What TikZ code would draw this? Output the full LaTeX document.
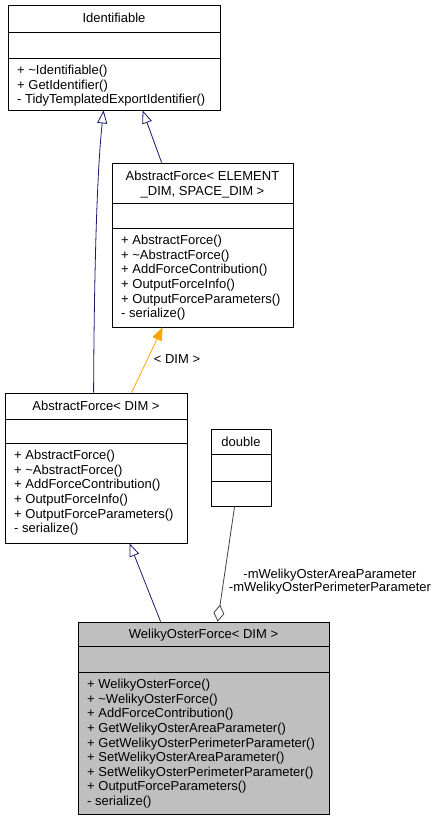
\documentclass[tikz,border=0pt]{standalone}
\usepackage{fontspec}
\setmainfont{Liberation Sans}
\usetikzlibrary{arrows.meta}
\definecolor{navyline}{HTML}{191970}
\definecolor{orangeline}{HTML}{FFA500}
\definecolor{grayfill}{HTML}{BFBFBF}
\definecolor{darkline}{HTML}{404040}
\begin{document}
\begin{tikzpicture}[x=1pt,y=-1pt,
  umlbox/.style={draw=black, line width=0.8pt, rectangle, inner sep=0pt, fill=white},
  ttl/.style={font=\fontsize{13pt}{15pt}\selectfont, anchor=base, inner sep=0pt},
  mem/.style={font=\fontsize{13pt}{14.6pt}\selectfont, anchor=north west, inner sep=0pt, align=left},
  sep/.style={draw=black, line width=0.8pt},
  inh/.style={draw=navyline, line width=0.8pt, -{Triangle[open, length=13pt, width=10pt, fill=white]}},
  tmpl/.style={draw=orangeline, line width=0.8pt, -{Triangle[length=13pt, width=10pt]}},
  agg/.style={draw=darkline, line width=0.8pt, {Diamond[open, length=17pt, width=11pt, fill=white]}-},
  lbl/.style={font=\fontsize{13pt}{13pt}\selectfont, inner sep=0pt, align=center}
]
\useasboundingbox (0,0) rectangle (436,821);

% Identifiable
\node[umlbox, minimum width=212pt, minimum height=105pt] (ident) at (114,57.5) {};
\draw[sep] (8,32) -- (220,32);
\draw[sep] (8,58) -- (220,58);
\node[ttl] (identT) at (114,22.5) {Identifiable};
\node[mem] (identM) at (17,64.3) {\strut+ \char`\~Identifiable()\\+ GetIdentifier()\\- TidyTemplatedExportIdentifier()};

% AbstractForce< ELEMENT_DIM, SPACE_DIM >
\node[umlbox, minimum width=181pt, minimum height=164pt] (afed) at (202.5,245) {};
\draw[sep] (112,203) -- (293,203);
\draw[sep] (112,228) -- (293,228);
\node[ttl] (afedT1) at (202.5,180) {AbstractForce< ELEMENT};
\node[ttl] (afedT2) at (202.5,195) {\_DIM, SPACE\_DIM >};
\node[mem] (afedM) at (121,234.3) {\strut+ AbstractForce()\\+ \char`\~AbstractForce()\\+ AddForceContribution()\\+ OutputForceInfo()\\+ OutputForceParameters()\\- serialize()};

% AbstractForce< DIM >
\node[umlbox, minimum width=182pt, minimum height=150pt] (afdim) at (96,468) {};
\draw[sep] (5,419) -- (187,419);
\draw[sep] (5,443) -- (187,443);
\node[ttl] (afdimT) at (96,410.5) {AbstractForce< DIM >};
\node[mem] (afdimM) at (14,449.3) {\strut+ AbstractForce()\\+ \char`\~AbstractForce()\\+ AddForceContribution()\\+ OutputForceInfo()\\+ OutputForceParameters()\\- serialize()};

% double
\node[umlbox, minimum width=60pt, minimum height=77pt] (dbl) at (241,467.5) {};
\draw[sep] (211,454) -- (271,454);
\draw[sep] (211,481) -- (271,481);
\node[ttl] (dblT) at (241,446) {double};

% WelikyOsterForce< DIM >
\node[umlbox, fill=grayfill, minimum width=251pt, minimum height=192pt] (wof) at (203.5,718) {};
\draw[sep] (78,646) -- (329,646);
\draw[sep] (78,672) -- (329,672);
\node[ttl] (wofT) at (203.5,638.5) {WelikyOsterForce< DIM >};
\node[mem] (wofM) at (87,678.3) {\strut+ WelikyOsterForce()\\+ \char`\~WelikyOsterForce()\\+ AddForceContribution()\\+ GetWelikyOsterAreaParameter()\\+ GetWelikyOsterPerimeterParameter()\\+ SetWelikyOsterAreaParameter()\\+ SetWelikyOsterPerimeterParameter()\\+ OutputForceParameters()\\- serialize()};

% connectors
\draw[inh] ([xshift=89pt]afdim.north west) .. controls (94,300) and (96,180) .. ([xshift=96pt]ident.south west);
\draw[inh] ([xshift=50pt]afed.north west) -- ([xshift=135pt]ident.south west);
\draw[tmpl] ([xshift=127pt]afdim.north west) -- ([xshift=51pt]afed.south west);
\node[lbl] (tmplL) at (177,359) {< DIM >};
\draw[inh] ([xshift=83pt]wof.north west) -- ([xshift=125pt]afdim.south west);
\draw[agg] ([xshift=140pt]wof.north west) -- ([xshift=24pt]dbl.south west);
\node[lbl] (aggL) at (330,581.5) {-mWelikyOsterAreaParameter\\-mWelikyOsterPerimeterParameter};
\end{tikzpicture}
\end{document}
